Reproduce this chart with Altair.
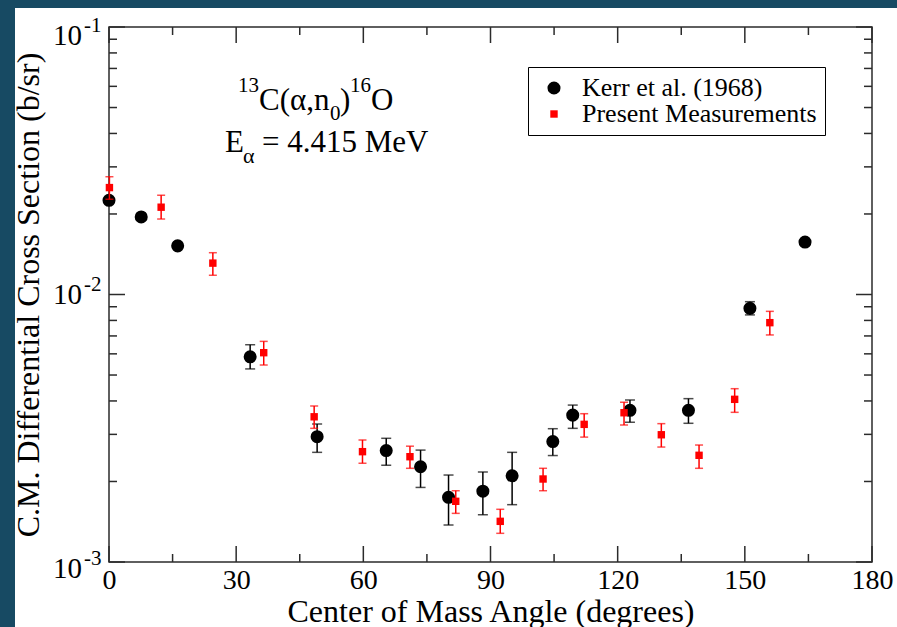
import altair as alt
import numpy as np
import pandas as pd

# Kerr et al. (1968): C.M. angle (deg), cross section (b/sr), error-bar limits
kerr_angle = [0.0, 7.6, 16.2, 33.3, 49.1, 65.4, 73.5, 80.1, 88.2, 95.1,
              104.7, 109.4, 122.9, 136.7, 151.2, 164.2]
kerr_xs = [0.0225, 0.0195, 0.0152, 0.00585, 0.00294, 0.00261, 0.00227, 0.001745,
           0.00184, 0.0021, 0.00282, 0.00354, 0.00369, 0.00369, 0.00888, 0.0157]
kerr_lo = [np.nan, np.nan, np.nan, 0.00527, 0.00257, 0.00230, 0.0019, 0.001375,
           0.001502, 0.001638, 0.0025, 0.00316, 0.00333, 0.0033, 0.00839, np.nan]
kerr_hi = [np.nan, np.nan, np.nan, 0.00649, 0.00328, 0.0029, 0.00262, 0.002114,
           0.00217, 0.00257, 0.00315, 0.00386, 0.004033, 0.00408, 0.0094, np.nan]

# Present measurements
pm_angle = [0.1, 12.3, 24.5, 36.5, 48.4, 59.8, 71.0, 81.8, 92.3, 102.4,
            112.1, 121.5, 130.3, 139.2, 147.6, 155.9]
pm_xs = [0.0251, 0.0212, 0.0131, 0.00606, 0.00349, 0.002585, 0.002475, 0.001686,
         0.001419, 0.002043, 0.00327, 0.003614, 0.00299, 0.002505, 0.004056, 0.007847]
pm_lo = [0.0227, 0.01915, 0.0118, 0.00545, 0.00316, 0.00234, 0.00224, 0.00152,
         0.00128, 0.001847, 0.00293, 0.00325, 0.00269, 0.00224, 0.003627, 0.00706]
pm_hi = [0.02756, 0.0235, 0.01433, 0.00668, 0.00383, 0.00286, 0.00271, 0.001847,
         0.001574, 0.00224, 0.003584, 0.003955, 0.00329, 0.002737, 0.004445, 0.00865]

series_names = ["Kerr et al. (1968)", "Present Measurements"]

# Tick positions
x_major = [0, 30, 60, 90, 120, 150, 180]
x_minor = [15, 45, 75, 105, 135, 165]
y_decades = [1e-1, 1e-2, 1e-3]
y_exponents = ["-1", "-2", "-3"]
y_minor = [k * 10.0 ** e for e in (-3, -2) for k in range(2, 10)]

W, H = 763, 535
FONT = "Liberation Serif"
FRAME = "#2b2b2b"
BLUE = "#174a63"

x_scale = alt.Scale(domain=[0, 180], nice=False, zero=False)
y_scale = alt.Scale(type="log", domain=[1e-3, 1e-1], nice=False)

kerr = pd.DataFrame({"angle": kerr_angle, "xs": kerr_xs, "lo": kerr_lo,
                     "hi": kerr_hi, "series": series_names[0]})
pres = pd.DataFrame({"angle": pm_angle, "xs": pm_xs, "lo": pm_lo,
                     "hi": pm_hi, "series": series_names[1]})
points = pd.concat([kerr, pres], ignore_index=True)
one = pd.DataFrame({"k": [0]})

# dark side strips framing the figure
strips = alt.layer(
    alt.Chart(one).mark_rect(color=BLUE).encode(
        x=alt.value(-109), x2=alt.value(-94), y=alt.value(-27), y2=alt.value(H + 65)),
    alt.Chart(one).mark_rect(color=BLUE).encode(
        x=alt.value(-109), x2=alt.value(W + 25), y=alt.value(-27), y2=alt.value(-19)),
)


def xticks(vals, length):
    df = pd.DataFrame({"angle": vals})
    base = alt.Chart(df).mark_rule(color=FRAME, strokeWidth=1.5)
    xe = alt.X("angle:Q", scale=x_scale)
    return alt.layer(
        base.encode(x=xe, y=alt.value(H), y2=alt.value(H - length)),
        base.encode(x=xe, y=alt.value(0), y2=alt.value(length)),
    )


def yticks(vals, length):
    df = pd.DataFrame({"xs": vals})
    base = alt.Chart(df).mark_rule(color=FRAME, strokeWidth=1.5)
    ye = alt.Y("xs:Q", scale=y_scale)
    return alt.layer(
        base.encode(y=ye, x=alt.value(0), x2=alt.value(length)),
        base.encode(y=ye, x=alt.value(W), x2=alt.value(W - length)),
    )


ticks = alt.layer(xticks(x_major, 16), xticks(x_minor, 8),
                  yticks(y_decades, 16), yticks(y_minor, 8))

# y tick labels: 10 with a superscript exponent
ylabel_layers = []
for dec, ex, dy in zip(y_decades, y_exponents, [18, 9, 16]):
    df = pd.DataFrame({"xs": [dec]})
    ye = alt.Y("xs:Q", scale=y_scale)
    ylabel_layers.append(
        alt.Chart(df).mark_text(text="10", font=FONT, fontSize=29, align="right",
                                baseline="alphabetic", dx=-27, dy=dy, color="black")
        .encode(x=alt.datum(0), y=ye))
    ylabel_layers.append(
        alt.Chart(df).mark_text(text=ex, font=FONT, fontSize=21, align="left",
                                baseline="alphabetic", dx=-25, dy=dy - 13, color="black")
        .encode(x=alt.datum(0), y=ye))
ylabels = alt.layer(*ylabel_layers)


def err_layer(df, color, cap):
    d = df.dropna(subset=["lo", "hi"])
    xe = alt.X("angle:Q", scale=x_scale)
    bar = alt.Chart(d).mark_rule(color=color, strokeWidth=1.5).encode(
        x=xe, y=alt.Y("lo:Q", scale=y_scale), y2="hi:Q")
    lo = alt.Chart(d).mark_tick(color=color, orient="horizontal", size=cap,
                                thickness=1.5).encode(
        x=xe, y=alt.Y("lo:Q", scale=y_scale))
    hi = alt.Chart(d).mark_tick(color=color, orient="horizontal", size=cap,
                                thickness=1.5).encode(
        x=xe, y=alt.Y("hi:Q", scale=y_scale))
    return alt.layer(bar, lo, hi)


legend = alt.Legend(
    orient="none", legendX=419, legendY=40, title=None,
    labelFont=FONT, labelFontSize=26, labelColor="black", labelLimit=500,
    strokeColor="black", fillColor="white", padding=8, rowPadding=-3,
    symbolOffset=5, labelOffset=15, symbolStrokeWidth=0,
)

pts = alt.Chart(points).mark_point(filled=True, opacity=1).encode(
    x=alt.X("angle:Q", scale=x_scale,
            axis=alt.Axis(values=x_major, format="d",
                          title="Center of Mass Angle (degrees)")),
    y=alt.Y("xs:Q", scale=y_scale,
            axis=alt.Axis(labels=False,
                          title="C.M. Differential Cross Section (b/sr)")),
    color=alt.Color("series:N", scale=alt.Scale(domain=series_names,
                                                range=["black", "red"]),
                    legend=legend),
    shape=alt.Shape("series:N", scale=alt.Scale(domain=series_names,
                                                range=["circle", "square"]),
                    legend=legend),
    size=alt.Size("series:N", scale=alt.Scale(domain=series_names,
                                              range=[170, 55]),
                  legend=legend),
)


def txt(text, xv, yv, size, dx=0, dy=0, align="left"):
    return alt.Chart(one).mark_text(
        text=text, font=FONT, fontSize=size, align=align, baseline="alphabetic",
        dx=dx, dy=dy, color="black").encode(x=alt.datum(xv), y=alt.datum(yv))


# reaction label
r_x, r_y = 35.4, 0.0490
e_x, e_y = 27.36, 0.0341
label = alt.layer(
    txt("13", r_x, r_y, 21, dx=0, dy=-18, align="right"),
    txt("C(α,n", r_x, r_y, 31, dx=0),
    txt("0", r_x, r_y, 21, dx=71, dy=10),
    txt(")", r_x, r_y, 31, dx=81),
    txt("16", r_x, r_y, 21, dx=91, dy=-18),
    txt("O", r_x, r_y, 31, dx=112),
    txt("E", e_x, e_y, 31, dx=0),
    txt("α", e_x, e_y, 22, dx=18, dy=11),
    txt("= 4.415 MeV", e_x, e_y, 31, dx=37),
)

chart = alt.layer(
    strips, ticks, err_layer(kerr, "black", 10), pts, err_layer(pres, "red", 8),
    ylabels, label,
).properties(
    width=W, height=H, background="white",
    padding={"left": 109, "top": 27, "right": 25, "bottom": 65},
    autosize=alt.AutoSizeParams(type="none"),
).configure_view(
    stroke=FRAME, strokeWidth=1.5
).configure_axis(
    domain=False, ticks=False, tickSize=0, grid=False, zindex=1,
    labelFont=FONT, labelFontSize=28, labelColor="black",
    titleFont=FONT, titleFontSize=32, titleFontWeight="normal", titleColor="black",
).configure_axisX(
    labelPadding=4, titlePadding=2, labelFlush=False,
).configure_axisY(
    labels=False, titlePadding=64,
)

chart.save("out.html", embed_options={"renderer": "svg", "actions": False})
